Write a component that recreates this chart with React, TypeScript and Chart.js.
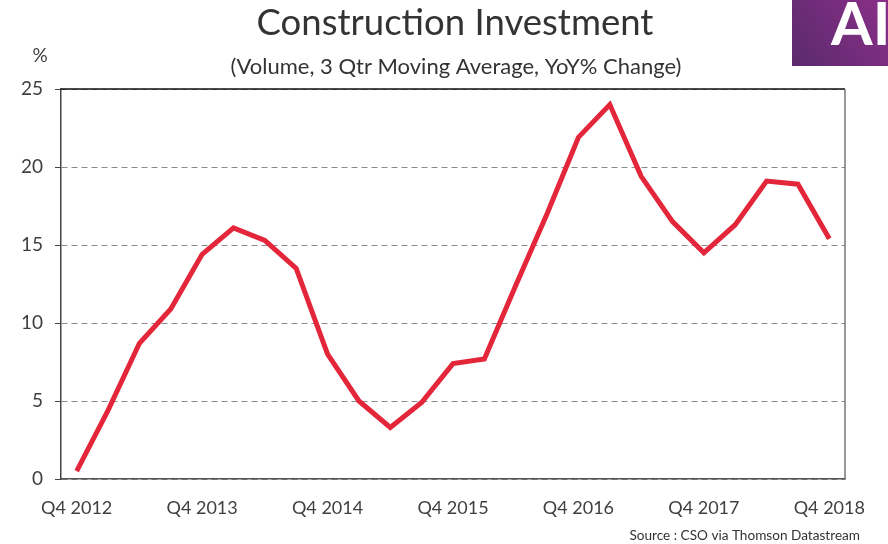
import { useEffect, useRef } from "react";
import { Chart, registerables } from "chart.js";
Chart.register(...registerables);

const titleText = "Construction Investment";
const subtitleText = "(Volume, 3 Qtr Moving Average, YoY% Change)";
const sourceText = "Source : CSO via Thomson Datastream";
const unitLabel = "%";

const quarters = [
  "Q4 2012", "Q1 2013", "Q2 2013", "Q3 2013",
  "Q4 2013", "Q1 2014", "Q2 2014", "Q3 2014",
  "Q4 2014", "Q1 2015", "Q2 2015", "Q3 2015",
  "Q4 2015", "Q1 2016", "Q2 2016", "Q3 2016",
  "Q4 2016", "Q1 2017", "Q2 2017", "Q3 2017",
  "Q4 2017", "Q1 2018", "Q2 2018", "Q3 2018",
  "Q4 2018",
];
const investmentYoY = [
  0.5, 4.4, 8.7, 10.9,
  14.4, 16.1, 15.3, 13.5,
  8.0, 5.0, 3.3, 4.9,
  7.4, 7.7, 12.4, 17.0,
  21.9, 24.0, 19.4, 16.5,
  14.5, 16.3, 19.1, 18.9,
  15.4,
];
const yMin = 0;
const yMax = 25;
const yStep = 5;

const decor = {
  id: "decor",
  beforeDraw(chart: any) {
    const ctx = chart.ctx;
    ctx.save();
    ctx.fillStyle = "#fff";
    ctx.fillRect(0, 0, chart.width, chart.height);
    ctx.restore();
  },
  beforeDatasetsDraw(chart: any) {
    const { ctx, chartArea: a } = chart;
    ctx.save();
    ctx.strokeStyle = "#111";
    ctx.lineWidth = 1.5;
    ctx.beginPath();
    ctx.moveTo(a.left, a.top);
    ctx.lineTo(a.right, a.top);
    ctx.stroke();
    ctx.strokeStyle = "#777";
    ctx.lineWidth = 1.5;
    ctx.beginPath();
    ctx.moveTo(a.right, a.top);
    ctx.lineTo(a.right, a.bottom);
    ctx.stroke();
    ctx.restore();
  },
  afterDraw(chart: any) {
    const { ctx } = chart;
    ctx.save();
    ctx.fillStyle = "#333";
    ctx.textAlign = "center";
    ctx.textBaseline = "middle";
    ctx.font = "36.5px Lato";
    ctx.fillText(titleText, 455, 23);
    ctx.font = "22px Lato";
    ctx.fillText(subtitleText, 456, 67);
    ctx.font = "19px Lato";
    ctx.fillStyle = "#404040";
    ctx.fillText(unitLabel, 40, 56);
    ctx.font = "13.6px Lato";
    ctx.fillStyle = "#333";
    ctx.textAlign = "right";
    ctx.fillText(sourceText, 860, 536);

    // logo
    const lx = 792, ly = 0, lw = 96, lh = 66;
    const g = ctx.createLinearGradient(lx, ly + lh, lx + lw, ly);
    g.addColorStop(0, "#5a2a6c");
    g.addColorStop(1, "#8a2f88");
    ctx.fillStyle = g;
    ctx.fillRect(lx, ly, lw, lh);
    ctx.beginPath();
    ctx.rect(lx, ly, lw, lh);
    ctx.clip();
    ctx.fillStyle = "#fff";
    ctx.textAlign = "left";
    ctx.textBaseline = "alphabetic";
    ctx.font = "bold 60px Lato";
    ctx.fillText("AIB", 831, 45);
    ctx.restore();
  },
};

export default function App() {
  const ref = useRef<HTMLCanvasElement | null>(null);
  useEffect(() => {
    if (!ref.current) return;
    const chart = new Chart(ref.current, {
      type: "line",
      data: {
        labels: quarters,
        datasets: [
          {
            data: investmentYoY,
            borderColor: "#e4263a",
            borderWidth: 5,
            pointRadius: 0,
            tension: 0,
            fill: false,
          },
        ],
      },
      options: {
        responsive: false,
        animation: false,
        layout: { padding: { top: 89, right: 43, bottom: 0, left: 0 } },
        plugins: {
          legend: { display: false },
          title: { display: false },
          tooltip: { enabled: false },
        },
        scales: {
          x: {
            type: "category",
            offset: true,
            grid: { display: false, drawTicks: false },
            border: { display: true, color: "#555", width: 1.5 },
            ticks: {
              autoSkip: false,
              maxRotation: 0,
              padding: 18,
              color: "#404040",
              font: { family: "Lato", size: 18 },
              callback: (_v: any, i: number) => (i % 4 === 0 ? quarters[i] : ""),
            },
            afterFit: (s: any) => {
              s.height = 65;
            },
          },
          y: {
            min: yMin,
            max: yMax,
            grid: {
              color: "#8a8a8a",
              lineWidth: 1,
              tickLength: 6,
              tickColor: "#444",
            },
            border: { display: true, color: "#444", width: 1.5, dash: [6, 4] },
            ticks: {
              stepSize: yStep,
              padding: 12,
              color: "#404040",
              font: { family: "Lato", size: 19 },
            },
            afterFit: (s: any) => {
              s.width = 61;
            },
          },
        },
      },
      plugins: [decor],
    });
    return () => chart.destroy();
  }, []);
  return (
    <div style={{ position: "absolute", left: 0, top: 0, width: 888, height: 544 }}>
      <canvas ref={ref} width={888} height={544} />
    </div>
  );
}
